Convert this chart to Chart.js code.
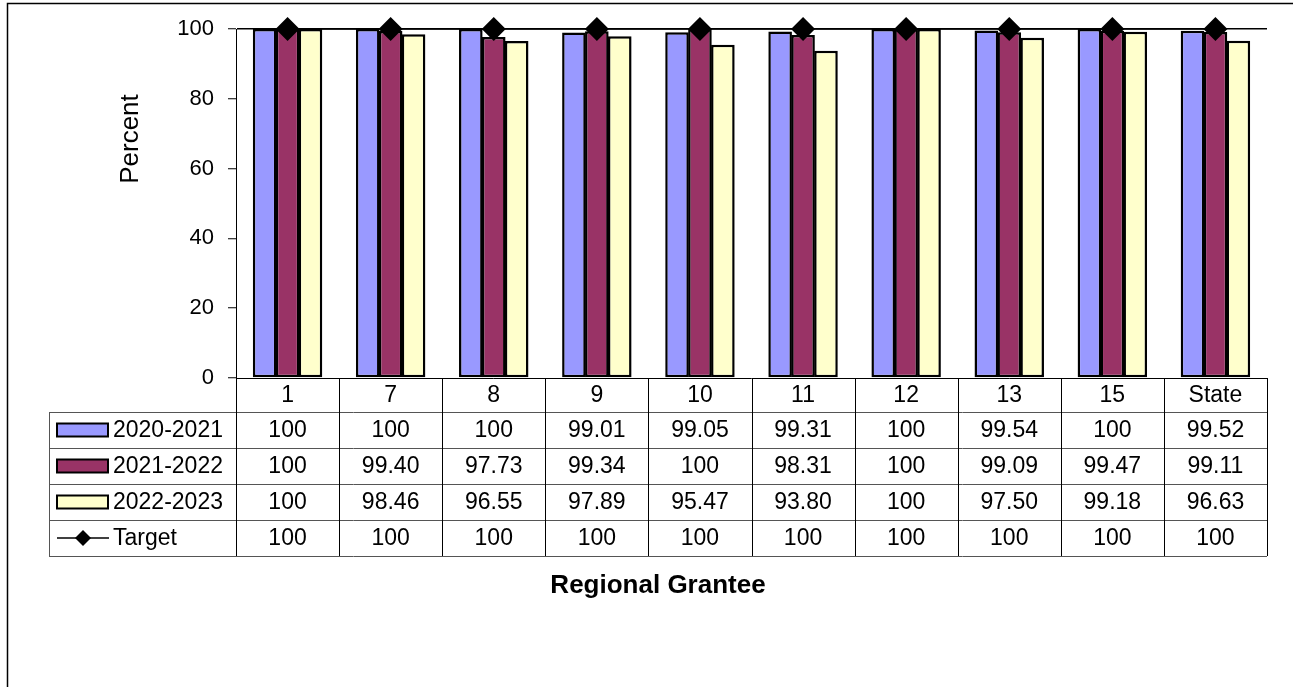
<!DOCTYPE html>
<html>
<head>
<meta charset="utf-8">
<title>Regional Grantee</title>
<script src="https://cdn.jsdelivr.net/npm/chart.js@4/dist/chart.umd.min.js"></script>
<style>
  html, body { margin: 0; padding: 0; background: #fff; }
</style>
</head>
<body>
<canvas id="grantee" width="1293" height="687"></canvas>
<script>
var grantees = ['1', '7', '8', '9', '10', '11', '12', '13', '15', 'State'];
var seriesNames = ['2020-2021', '2021-2022', '2022-2023'];
var yr2021 = [100, 100, 100, 99.01, 99.05, 99.31, 100, 99.54, 100, 99.52];
var yr2122 = [100, 99.40, 97.73, 99.34, 100, 98.31, 100, 99.09, 99.47, 99.11];
var yr2223 = [100, 98.46, 96.55, 97.89, 95.47, 93.80, 100, 97.50, 99.18, 96.63];
var target = [100, 100, 100, 100, 100, 100, 100, 100, 100, 100];
var yTicks = [0, 20, 40, 60, 80, 100];

var barColors = ['#9999FF', '#993366', '#FFFFCC'];
var FONT = 'Arial, "Liberation Sans", sans-serif';

function fmt(v) {
    return v === 100 ? '100' : v.toFixed(2);
}

function diamond(ctx, x, y, r) {
    ctx.beginPath();
    ctx.moveTo(x, y - r);
    ctx.lineTo(x + r, y);
    ctx.lineTo(x, y + r);
    ctx.lineTo(x - r, y);
    ctx.closePath();
    ctx.fill();
}

// draws the data table under the plot, plus the axis titles and outer frame
var dataTable = {
    id: 'dataTable',
    afterDraw: function (chart) {
        var ctx = chart.ctx;
        var a = chart.chartArea;
        var xs = chart.scales.x;
        var n = grantees.length;
        var colW = (a.right - a.left) / n;
        var headH = 34, rowH = 36, legLeft = 49;
        var rows = [
            { name: seriesNames[0], vals: yr2021, color: barColors[0] },
            { name: seriesNames[1], vals: yr2122, color: barColors[1] },
            { name: seriesNames[2], vals: yr2223, color: barColors[2] },
            { name: 'Target', vals: target, line: true }
        ];
        var top = a.bottom;
        var tableTop = top + headH;
        var tableBottom = tableTop + rows.length * rowH;

        ctx.save();
        // outer frame
        ctx.strokeStyle = '#000';
        ctx.lineWidth = 1.5;
        ctx.beginPath();
        ctx.moveTo(7.5, chart.height);
        ctx.lineTo(7.5, 3.5);
        ctx.lineTo(chart.width, 3.5);
        ctx.stroke();

        // row lines
        ctx.lineWidth = 1;
        ctx.strokeStyle = '#555';
        ctx.beginPath();
        for (var r = 0; r <= rows.length; r++) {
            var yy = Math.round(tableTop + r * rowH) + 0.5;
            ctx.moveTo(legLeft, yy);
            ctx.lineTo(a.right, yy);
        }
        ctx.moveTo(legLeft + 0.5, tableTop);
        ctx.lineTo(legLeft + 0.5, tableBottom);
        ctx.stroke();

        // column lines + x axis
        ctx.strokeStyle = '#000';
        ctx.beginPath();
        for (var c = 0; c <= n; c++) {
            var xx = Math.round(a.left + c * colW) + 0.5;
            ctx.moveTo(xx, top);
            ctx.lineTo(xx, tableBottom);
        }
        ctx.moveTo(a.left, Math.round(top) + 0.5);
        ctx.lineTo(a.right, Math.round(top) + 0.5);
        ctx.stroke();

        ctx.fillStyle = '#000';
        ctx.font = '23px ' + FONT;
        ctx.textAlign = 'center';
        ctx.textBaseline = 'middle';
        grantees.forEach(function (g, i) {
            ctx.fillText(g, xs.getPixelForValue(i), top + headH / 2 + 1);
        });

        rows.forEach(function (row, ri) {
            var cy = tableTop + ri * rowH + rowH / 2;
            ctx.fillStyle = '#000';
            ctx.textAlign = 'center';
            row.vals.forEach(function (v, i) {
                ctx.fillText(fmt(v), xs.getPixelForValue(i), cy + 1);
            });
            if (row.line) {
                ctx.strokeStyle = '#000';
                ctx.lineWidth = 1.5;
                ctx.beginPath();
                ctx.moveTo(57, cy);
                ctx.lineTo(109, cy);
                ctx.stroke();
                diamond(ctx, 83, cy, 8);
            } else {
                ctx.fillStyle = row.color;
                ctx.fillRect(57, cy - 6.5, 51, 13);
                ctx.strokeStyle = '#000';
                ctx.lineWidth = 2;
                ctx.strokeRect(57, cy - 6.5, 51, 13);
            }
            ctx.fillStyle = '#000';
            ctx.textAlign = 'left';
            ctx.fillText(row.name, 113, cy + 1);
        });

        // axis titles
        ctx.textAlign = 'center';
        ctx.font = 'bold 26px ' + FONT;
        ctx.fillText('Regional Grantee', (legLeft + a.right) / 2, 586);
        ctx.translate(131, 139);
        ctx.rotate(-Math.PI / 2);
        ctx.font = '26px ' + FONT;
        ctx.fillText('Percent', 0, 0);
        ctx.restore();
    }
};

function barSet(label, values, color) {
    return {
        label: label,
        data: values,
        backgroundColor: color,
        borderColor: '#000',
        borderWidth: 2.5,
        borderSkipped: false,
        order: 1
    };
}

var chart = new Chart('grantee', {
    type: 'bar',
    data: {
        labels: grantees,
        datasets: [{
            type: 'line',
            label: 'Target',
            data: target,
            borderColor: '#000',
            borderWidth: 1.5,
            pointStyle: 'rectRot',
            pointRadius: 12,
            pointBackgroundColor: '#000',
            pointBorderColor: '#000',
            pointBorderWidth: 0,
            order: 0,
            clip: false
        },
        barSet(seriesNames[0], yr2021, barColors[0]),
        barSet(seriesNames[1], yr2122, barColors[1]),
        barSet(seriesNames[2], yr2223, barColors[2])]
    },
    options: {
        responsive: false,
        animation: false,
        categoryPercentage: 0.667,
        barPercentage: 1.03,
        layout: { padding: { left: 0, top: 29, right: 26, bottom: 309 } },
        plugins: {
            legend: { display: false },
            tooltip: { enabled: false }
        },
        scales: {
            x: {
                ticks: { display: false },
                grid: { display: false },
                border: { display: false },
                afterFit: function (s) { s.height = 0; }
            },
            y: {
                min: 0,
                max: 100,
                afterBuildTicks: function (s) {
                    s.ticks = yTicks.map(function (v) { return { value: v }; });
                },
                ticks: {
                    color: '#000',
                    padding: 14,
                    font: { size: 22, family: FONT }
                },
                grid: {
                    color: function (c) {
                        return c.tick && c.tick.value === 100 ? '#000' : 'rgba(0,0,0,0)';
                    },
                    lineWidth: 1.5,
                    tickColor: '#000',
                    tickWidth: 1,
                    tickLength: 8
                },
                border: { color: '#000', width: 1 },
                afterFit: function (s) { s.width = 236; }
            }
        }
    },
    plugins: [dataTable]
});
</script>
</body>
</html>
